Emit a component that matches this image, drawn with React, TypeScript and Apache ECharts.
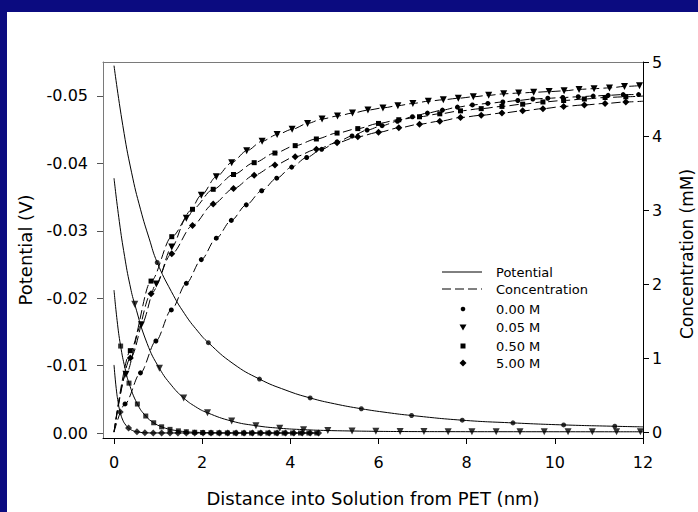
import React, { useEffect, useRef } from 'react';
import * as echarts from 'echarts';

const FONT = '"DejaVu Sans", sans-serif';

// Axis ticks
const xTicks = [0, 2, 4, 6, 8, 10, 12];
const potTicks = [0, -0.01, -0.02, -0.03, -0.04, -0.05];
const concTicks = [0, 1, 2, 3, 4, 5];

// Potential (V) curves (solid lines)
const pot000Line: number[][] = [[0, -0.0545], [0.2, -0.0456], [0.4, -0.0386], [0.6, -0.0332], [0.8, -0.0288], [0.98, -0.0253], [1.3, -0.021], [1.6, -0.0177], [1.9, -0.0151], [2.14, -0.0134], [2.7, -0.0103], [3.3, -0.008], [3.9, -0.00635], [4.45, -0.0052], [5.0, -0.00434], [5.61, -0.0036], [6.2, -0.00303], [6.75, -0.0026], [7.9, -0.0019], [9.05, -0.0015], [10.2, -0.0012], [11.36, -0.001], [12, -0.00091]];
const pot000Marks: number[][] = [[0.98, -0.0253], [2.14, -0.0134], [3.3, -0.008], [4.45, -0.0052], [5.61, -0.0036], [6.75, -0.0026], [7.9, -0.0019], [9.05, -0.0015], [10.2, -0.0012], [11.36, -0.001]];

const pot005Line: number[][] = [[0, -0.0378], [0.12, -0.0314], [0.24, -0.0262], [0.36, -0.022], [0.47, -0.0191], [0.75, -0.0133], [1.03, -0.0096], [1.3, -0.0071], [1.58, -0.0052], [1.85, -0.0039], [2.12, -0.003], [2.67, -0.00177], [3.22, -0.00109], [3.76, -0.00071], [4.3, -0.0005], [4.85, -0.00037], [5.4, -0.0003], [5.94, -0.00025], [6.5, -0.00022], [7.6, -0.0002], [9.2, -0.00019], [12, -0.00018]];
const pot005Marks: number[][] = [[0.47, -0.0191], [1.03, -0.0096], [1.58, -0.0052], [2.12, -0.003], [2.67, -0.00177], [3.22, -0.00109], [3.76, -0.00071], [4.3, -0.0005], [4.85, -0.00037], [5.4, -0.0003], [5.94, -0.00025], [6.49, -0.00022], [7.03, -0.00021], [7.58, -0.0002], [8.12, -0.0002], [8.67, -0.00019], [9.21, -0.00019], [9.76, -0.00019], [10.3, -0.00018], [10.85, -0.00018], [11.4, -0.00018], [11.94, -0.00018]];

const pot050Line: number[][] = [[0, -0.0212], [0.07, -0.0167], [0.15, -0.0129], [0.25, -0.0096], [0.34, -0.0074], [0.53, -0.0043], [0.72, -0.00252], [0.9, -0.00152], [1.08, -0.00092], [1.27, -0.00054], [1.46, -0.00032], [1.64, -0.00019], [1.83, -0.00011], [2.2, -0.00004], [2.57, -0.00001], [4.6, 0]];
const pot050Marks: number[][] = [[0.15, -0.0129], [0.34, -0.0074], [0.53, -0.0043], [0.72, -0.00252], [0.9, -0.00152], [1.08, -0.00092], [1.27, -0.00054], [1.46, -0.00032], [1.64, -0.00019], [1.83, -0.00011], [2.01, -0.00007], [2.2, -0.00004], [2.38, -0.00002], [2.57, -0.00001], [2.75, 0], [2.94, 0], [3.12, 0], [3.31, 0], [3.49, 0], [3.68, 0], [3.86, 0], [4.05, 0], [4.23, 0], [4.42, 0], [4.6, 0]];

const pot500Line: number[][] = [[0, -0.0101], [0.05, -0.0066], [0.1, -0.0043], [0.14, -0.0031], [0.2, -0.0019], [0.27, -0.00115], [0.33, -0.00073], [0.42, -0.00037], [0.52, -0.00018], [0.7, -0.00004], [0.89, -0.00001], [4.64, 0]];
const pot500Marks: number[][] = [[0.14, -0.0031], [0.33, -0.00073], [0.52, -0.00018], [0.7, -0.00004], [0.89, -0.00001], [1.08, 0], [1.27, 0], [1.45, 0], [1.64, 0], [1.83, 0], [2.02, 0], [2.2, 0], [2.39, 0], [2.58, 0], [2.77, 0], [2.95, 0], [3.14, 0], [3.33, 0], [3.52, 0], [3.7, 0], [3.89, 0], [4.08, 0], [4.27, 0], [4.45, 0], [4.64, 0]];

// Concentration (mM) curves (dashed lines)
const conc000: number[][] = [[0, 0], [0.25, 0.38], [0.6, 0.8], [0.95, 1.23], [1.3, 1.65], [1.64, 2.01], [1.98, 2.33], [2.32, 2.62], [2.66, 2.86], [3.0, 3.07], [3.35, 3.26], [3.69, 3.43], [4.03, 3.58], [4.37, 3.71], [4.71, 3.82], [5.06, 3.92], [5.4, 4.0], [5.74, 4.08], [6.08, 4.14], [6.43, 4.2], [6.77, 4.26], [7.11, 4.31], [7.45, 4.35], [7.79, 4.39], [8.13, 4.42], [8.48, 4.44], [8.82, 4.46], [9.16, 4.48], [9.5, 4.5], [9.84, 4.51], [10.18, 4.52], [10.53, 4.53], [10.87, 4.54], [11.21, 4.55], [11.55, 4.56], [11.9, 4.56]];
const conc005: number[][] = [[0, 0], [0.27, 0.78], [0.62, 1.45], [0.96, 2.0], [1.31, 2.5], [1.64, 2.89], [1.98, 3.2], [2.32, 3.45], [2.67, 3.64], [3.01, 3.8], [3.36, 3.93], [3.7, 4.02], [4.04, 4.09], [4.39, 4.17], [4.72, 4.23], [5.07, 4.27], [5.41, 4.31], [5.76, 4.35], [6.1, 4.38], [6.44, 4.41], [6.78, 4.44], [7.13, 4.47], [7.47, 4.49], [7.81, 4.51], [8.15, 4.53], [8.5, 4.55], [8.84, 4.57], [9.18, 4.58], [9.52, 4.59], [9.87, 4.6], [10.21, 4.61], [10.55, 4.63], [10.89, 4.64], [11.24, 4.65], [11.58, 4.67], [11.92, 4.68]];
const conc050: number[][] = [[0, 0], [0.37, 1.1], [0.84, 2.04], [1.31, 2.64], [1.78, 3.01], [2.25, 3.28], [2.71, 3.48], [3.18, 3.64], [3.65, 3.77], [4.11, 3.87], [4.59, 3.96], [5.06, 4.04], [5.53, 4.1], [6.0, 4.17], [6.46, 4.22], [6.93, 4.26], [7.39, 4.3], [7.86, 4.34], [8.33, 4.37], [8.8, 4.4], [9.27, 4.43], [9.73, 4.46], [10.2, 4.48], [10.67, 4.5], [11.14, 4.52], [11.61, 4.53], [12, 4.54]];
const conc500: number[][] = [[0, 0], [0.37, 1.0], [0.84, 1.87], [1.31, 2.41], [1.78, 2.79], [2.25, 3.08], [2.71, 3.29], [3.18, 3.47], [3.65, 3.61], [4.11, 3.72], [4.59, 3.82], [5.06, 3.91], [5.53, 3.99], [6.0, 4.05], [6.46, 4.11], [6.93, 4.16], [7.39, 4.2], [7.86, 4.25], [8.33, 4.28], [8.8, 4.31], [9.27, 4.34], [9.73, 4.37], [10.2, 4.4], [10.67, 4.42], [11.14, 4.44], [11.61, 4.46], [12, 4.47]];

const legendLabels = ['Potential', 'Concentration', '0.00 M', '0.05 M', '0.50 M', '5.00 M'];

const BLACK = '#000';

function concData(points: number[][]) {
  return points.map((p) =>
    p[0] === 0 || p[0] === 12 ? { value: p, symbol: 'none' } : { value: p }
  );
}

function potLine(name: string, data: number[][]) {
  return {
    name, type: 'line', xAxisIndex: 0, yAxisIndex: 0, data,
    symbol: 'none', showSymbol: false, smooth: 0.5,
    lineStyle: { color: BLACK, width: 1 }, silent: true, z: 2,
  };
}
function marks(name: string, data: number[][], symbol: string, size: number, rotate = 0) {
  return {
    name, type: 'scatter', xAxisIndex: 0, yAxisIndex: 0, data,
    symbol, symbolSize: size, symbolRotate: rotate,
    itemStyle: { color: BLACK }, silent: true, z: 3,
  };
}
function concLine(name: string, data: number[][], symbol: string, size: number, rotate = 0) {
  return {
    name, type: 'line', xAxisIndex: 0, yAxisIndex: 1, data: concData(data),
    symbol, symbolSize: size, symbolRotate: rotate, showSymbol: true,
    smooth: 0.3, smoothMonotone: 'x',
    lineStyle: { color: BLACK, width: 1, type: [9, 4] },
    itemStyle: { color: BLACK }, silent: true, z: 3,
  };
}

const tickLabel = { fontFamily: FONT, fontSize: 16, color: BLACK };

const legendRowsY = [272, 289, 309, 327, 346, 363];

const graphic: any[] = [
  { type: 'text', x: 373, y: 498, style: { text: 'Distance into Solution from PET (nm)', font: `18px ${FONT}`, fill: BLACK, textAlign: 'center', textVerticalAlign: 'middle' } },
  { type: 'text', x: 25, y: 250, rotation: Math.PI / 2, style: { text: 'Potential (V)', font: `18px ${FONT}`, fill: BLACK, textAlign: 'center', textVerticalAlign: 'middle' } },
  { type: 'text', x: 687, y: 254, rotation: Math.PI / 2, style: { text: 'Concentration (mM)', font: `17px ${FONT}`, fill: BLACK, textAlign: 'center', textVerticalAlign: 'middle' } },
  { type: 'line', shape: { x1: 442, y1: legendRowsY[0], x2: 482, y2: legendRowsY[0] }, style: { stroke: BLACK, lineWidth: 1 } },
  { type: 'line', shape: { x1: 442, y1: legendRowsY[1], x2: 482, y2: legendRowsY[1] }, style: { stroke: BLACK, lineWidth: 1, lineDash: [9, 4] } },
  { type: 'circle', shape: { cx: 463, cy: legendRowsY[2], r: 2.3 }, style: { fill: BLACK } },
  { type: 'polygon', shape: { points: [[459.5, legendRowsY[3] - 2.5], [466.5, legendRowsY[3] - 2.5], [463, legendRowsY[3] + 3.5]] }, style: { fill: BLACK } },
  { type: 'rect', shape: { x: 460.5, y: legendRowsY[4] - 2.5, width: 5, height: 5 }, style: { fill: BLACK } },
  { type: 'polygon', shape: { points: [[463, legendRowsY[5] - 3.5], [466.5, legendRowsY[5]], [463, legendRowsY[5] + 3.5], [459.5, legendRowsY[5]]] }, style: { fill: BLACK } },
  ...legendLabels.map((t, i) => ({
    type: 'text', x: 496, y: legendRowsY[i],
    style: { text: t, font: `13px ${FONT}`, fill: BLACK, textAlign: 'left', textVerticalAlign: 'middle' },
  })),
];

const option: any = {
  animation: false,
  backgroundColor: 'transparent',
  grid: { left: 103, top: 62, width: 540, height: 376, containLabel: false },
  xAxis: [
    {
      type: 'value', position: 'bottom', min: -0.25, max: 12,
      axisLine: { show: true, onZero: false, lineStyle: { color: BLACK, width: 1 } },
      axisTick: { show: true, inside: false, length: 6, customValues: xTicks, lineStyle: { color: BLACK } },
      axisLabel: { ...tickLabel, customValues: xTicks, margin: 16, formatter: (v: number) => String(v) },
      splitLine: { show: false },
    },
    {
      type: 'value', position: 'top', min: -0.25, max: 12,
      axisLine: { show: true, onZero: false, lineStyle: { color: '#7a7a7a', width: 1 } },
      axisTick: { show: false }, axisLabel: { show: false }, splitLine: { show: false },
    },
  ],
  yAxis: [
    {
      type: 'value', position: 'left', inverse: true, min: -0.05504, max: 0.00074,
      axisLine: { show: true, onZero: false, lineStyle: { color: '#7a7a7a', width: 1 } },
      axisTick: { show: true, inside: false, length: 6, customValues: potTicks, lineStyle: { color: '#555' } },
      axisLabel: { ...tickLabel, customValues: potTicks, margin: 15, formatter: (v: number) => v.toFixed(2) },
      splitLine: { show: false },
    },
    {
      type: 'value', position: 'right', min: -0.08, max: 5,
      axisLine: { show: true, onZero: false, lineStyle: { color: BLACK, width: 1 } },
      axisTick: { show: true, inside: false, length: 6, customValues: concTicks, lineStyle: { color: BLACK } },
      axisLabel: { ...tickLabel, customValues: concTicks, margin: 9, formatter: (v: number) => String(v) },
      splitLine: { show: false },
    },
  ],
  graphic,
  series: [
    potLine('Potential 0.00 M', pot000Line),
    potLine('Potential 0.05 M', pot005Line),
    potLine('Potential 0.50 M', pot050Line),
    potLine('Potential 5.00 M', pot500Line),
    marks('0.00 M', pot000Marks, 'circle', 5),
    marks('0.05 M', pot005Marks, 'triangle', 7, 180),
    marks('0.50 M', pot050Marks, 'rect', 5),
    marks('5.00 M', pot500Marks, 'diamond', 7),
    concLine('Concentration 0.00 M', conc000, 'circle', 5),
    concLine('Concentration 0.05 M', conc005, 'triangle', 7, 180),
    concLine('Concentration 0.50 M', conc050, 'rect', 5),
    concLine('Concentration 5.00 M', conc500, 'diamond', 7),
  ],
};

export default function App() {
  const ref = useRef<HTMLDivElement>(null);
  useEffect(() => {
    if (!ref.current) return;
    const chart = echarts.init(ref.current, null, { renderer: 'svg' });
    chart.setOption(option);
    return () => chart.dispose();
  }, []);
  return (
    <div style={{ position: 'fixed', left: 0, top: 0, width: 698, height: 512, background: '#0b0b80', overflow: 'hidden' }}>
      <div style={{ position: 'absolute', left: 7, top: 12, right: 0, bottom: 0, background: '#fff' }} />
      <div ref={ref} style={{ position: 'absolute', left: 0, top: 0, width: 698, height: 512 }} />
    </div>
  );
}
